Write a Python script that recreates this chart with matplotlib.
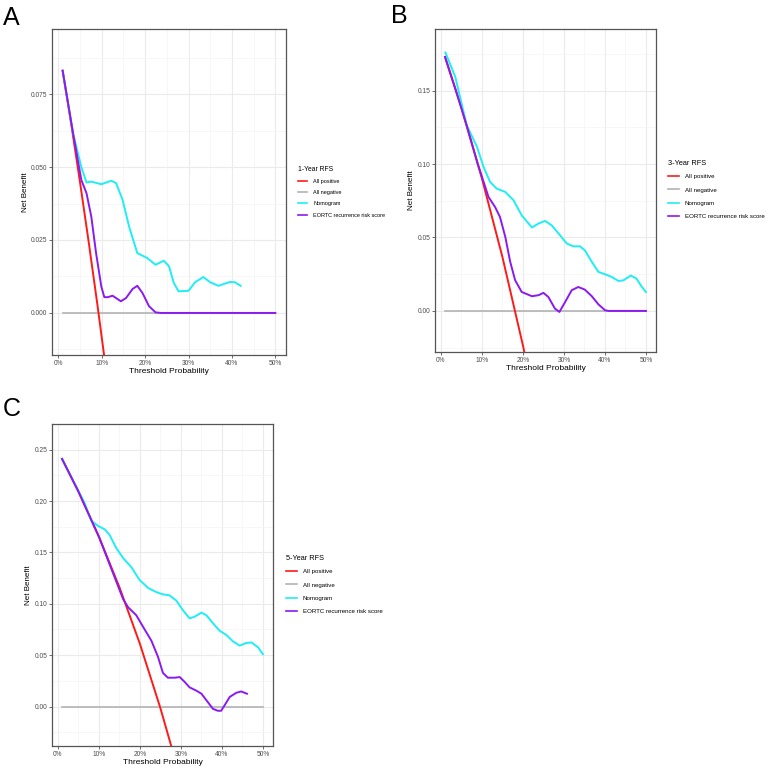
import matplotlib
matplotlib.use("Agg")
import matplotlib.pyplot as plt
from matplotlib.lines import Line2D

plt.rcParams['font.family'] = ['Liberation Sans', 'DejaVu Sans']

# ---- panel A: 1-Year RFS ----
a_pos_x = [1, 3, 5, 7, 9, 11]
a_pos_y = [0.083, 0.0645, 0.0448, 0.0243, 0.0029, -0.0196]
a_nom_x = [1, 3.4, 5.3, 6.5, 7.6, 9.9, 12.2, 13.3, 14.8, 16.3, 18.2, 20.5, 22.4, 24.3, 25.5,
           26.6, 27.7, 30.0, 31.5, 33.4, 35.0, 36.9, 39.5, 40.7, 42.0]
a_nom_y = [0.083, 0.0616, 0.050, 0.0447, 0.0450, 0.0441, 0.0453, 0.0445, 0.0388, 0.0296,
           0.0205, 0.0188, 0.0165, 0.0179, 0.0160, 0.0103, 0.0074, 0.0076, 0.0105, 0.0123,
           0.0105, 0.0093, 0.0106, 0.0105, 0.0093]
a_eor_x = [1, 3.4, 5.3, 6.5, 7.6, 8.7, 9.9, 10.6, 11.4, 12.5, 14.4, 15.6, 17.1, 18.2, 19.4,
           20.9, 22.4, 23.6, 50]
a_eor_y = [0.083, 0.0616, 0.0456, 0.041, 0.033, 0.0205, 0.0091, 0.0054, 0.0054, 0.0059,
           0.004, 0.0051, 0.0082, 0.0093, 0.0068, 0.0023, 0.0002, 0.0, 0.0]

# ---- panel B: 3-Year RFS ----
b_pos_x = [1, 5, 10, 15, 20, 21]
b_pos_y = [0.1729, 0.1381, 0.0902, 0.0367, -0.0235, -0.0365]
b_nom_x = [1.1, 3.5, 6.3, 8.8, 10.4, 12.0, 13.6, 15.7, 17.7, 19.7, 22.2, 23.8, 25.4, 27.0,
           28.7, 30.7, 32.3, 33.9, 35.1, 36.8, 38.4, 40.0, 41.6, 43.3, 44.5, 46.3, 47.7,
           48.9, 50.0]
b_nom_y = [0.176, 0.1594, 0.1264, 0.1117, 0.098, 0.0878, 0.0833, 0.081, 0.0754, 0.0651,
           0.0568, 0.0595, 0.0613, 0.0583, 0.0527, 0.0459, 0.044, 0.044, 0.0413, 0.0334,
           0.0266, 0.025, 0.0232, 0.0204, 0.0208, 0.0241, 0.022, 0.0168, 0.0129]
b_eor_x = [1, 3.5, 6.3, 9.0, 11.6, 13.2, 14.4, 15.7, 16.9, 18.1, 19.7, 22.2, 23.8, 25.0,
           26.2, 27.8, 28.9, 30.3, 31.9, 33.5, 35.1, 36.8, 38.4, 40.0, 40.8, 50]
b_eor_y = [0.173, 0.1515, 0.1262, 0.1000, 0.0776, 0.0708, 0.064, 0.0504, 0.0334, 0.0209,
           0.0129, 0.010, 0.0107, 0.0123, 0.0095, 0.0016, -0.0007, 0.0061, 0.0141, 0.0163,
           0.0145, 0.010, 0.0045, 0.0005, 0.0, 0.0]

# ---- panel C: 5-Year RFS ----
c_pos_x = [1, 5, 10, 15, 20, 25, 28]
c_pos_y = [0.241, 0.2092, 0.1652, 0.1161, 0.0609, -0.0017, -0.0435]
c_nom_x = [1, 4.5, 6.5, 8.1, 9.8, 11.4, 12.6, 14.2, 15.9, 17.9, 19.9, 22.0, 24.0, 25.6,
           27.2, 28.9, 30.5, 32.1, 33.3, 35.0, 36.2, 37.8, 39.4, 41.1, 42.7, 44.3, 45.9,
           47.2, 48.8, 50.0]
c_nom_y = [0.241, 0.2137, 0.198, 0.181, 0.1757, 0.1725, 0.167, 0.1544, 0.1445, 0.1357,
           0.1232, 0.1154, 0.1114, 0.1092, 0.1083, 0.103, 0.0936, 0.0858, 0.0874, 0.0914,
           0.0889, 0.0811, 0.0739, 0.0696, 0.0634, 0.0593, 0.0618, 0.0624, 0.0577, 0.0509]
c_eor_x = [1, 5, 10, 15.9, 17.1, 19.1, 20.7, 22.8, 24.4, 25.6, 26.8, 28.5, 29.7, 30.9, 32.1,
           33.7, 35.0, 36.2, 37.8, 39.0, 39.8, 40.7, 41.9, 43.5, 44.7, 46.1]
c_eor_y = [0.241, 0.2092, 0.1652, 0.1045, 0.0967, 0.0889, 0.078, 0.064, 0.0484, 0.0328,
           0.0281, 0.0281, 0.0287, 0.024, 0.0187, 0.0156, 0.0125, 0.0062, -0.0022, -0.0041,
           -0.0041, 0.0016, 0.0094, 0.0134, 0.0147, 0.0125]

labels = ['All positive', 'All negative', 'Nomogram', 'EORTC recurrence risk score']
colors = ['#FF1A1A', '#B3B3B3', '#1EEEF5', '#8A1AF0']

panels = [
    ('A', '1-Year RFS', [0.0672, 0.5408, 0.3023, 0.4217], (-0.0144, 0.0973),
     [0, 0.025, 0.05, 0.075], ['0.000', '0.025', '0.050', '0.075'],
     (a_pos_x, a_pos_y), (a_nom_x, a_nom_y), (a_eor_x, a_eor_y),
     (0.004, 0.992), (298 / 774, 1 - 166 / 773), 4.0, 4.9, 1.14, 4),
    ('B', '3-Year RFS', [0.562, 0.5446, 0.2855, 0.4179], (-0.028, 0.192),
     [0, 0.05, 0.10, 0.15], ['0.00', '0.05', '0.10', '0.15'],
     (b_pos_x, b_pos_y), (b_nom_x, b_nom_y), (b_eor_x, b_eor_y),
     (0.505, 0.995), (668 / 774, 1 - 160 / 773), 4.45, 5.3, 1.3, 5),
    ('C', '5-Year RFS', [0.0672, 0.0349, 0.2855, 0.4166], (-0.0384, 0.263),
     [0, 0.05, 0.10, 0.15, 0.20, 0.25], ['0.00', '0.05', '0.10', '0.15', '0.20', '0.25'],
     (c_pos_x, c_pos_y), (c_nom_x, c_nom_y), (c_eor_x, c_eor_y),
     (0.004, 0.486), (286 / 774, 1 - 555 / 773), 4.45, 5.3, 1.3, 5),
]

xticks = [0, 10, 20, 30, 40, 50]
xticklabels = ['0%', '10%', '20%', '30%', '40%', '50%']

fig = plt.figure(figsize=(7.74, 7.73), dpi=100)

for (letter, title, rect, ylim, yt, ytl, pos, nom, eor, lpos, legpos, lfs, tfs, lsp, tsep) in panels:
    ax = fig.add_axes(rect)
    ax.set_xlim(-1.45, 52.45)
    ax.set_ylim(*ylim)
    ax.set_xticks(xticks)
    ax.set_xticklabels(xticklabels)
    ax.set_xticks([5, 15, 25, 35, 45], minor=True)
    ax.set_yticks(yt)
    ax.set_yticklabels(ytl)
    ax.set_yticks([v + (yt[1] - yt[0]) / 2 for v in [yt[0] - (yt[1] - yt[0])] + yt], minor=True)
    ax.grid(which='major', color='#EBEBEB', linewidth=0.8)
    ax.grid(which='minor', color='#F4F4F4', linewidth=0.5)
    ax.set_axisbelow(True)
    ax.tick_params(which='major', length=2, width=0.5, color='#333333',
                   labelsize=4.8, labelcolor='#4D4D4D', pad=1.5)
    ax.tick_params(which='minor', length=0)
    for s in ax.spines.values():
        s.set_color('#555555')
        s.set_linewidth(0.9)

    ax.plot([1, 50], [0, 0], color=colors[1], lw=1.2)
    ax.plot(pos[0], pos[1], color=colors[0], lw=1.4)
    ax.plot(nom[0], nom[1], color=colors[2], lw=1.4)
    ax.plot(eor[0], eor[1], color=colors[3], lw=1.4)

    ax.set_xlabel('Threshold Probability', fontsize=6, labelpad=1)
    ax.set_ylabel('Net Benefit', fontsize=5.8, labelpad=1.5)

    fig.text(lpos[0], lpos[1], letter, fontsize=18, va='top', ha='left')

    handles = [Line2D([], [], color=c, lw=1.2) for c in colors]
    leg = fig.legend(handles, labels, loc='upper left', bbox_to_anchor=legpos,
                     frameon=False, fontsize=lfs, title=title, title_fontsize=tfs,
                     handlelength=1.7, handletextpad=1.0, labelspacing=lsp,
                     borderpad=0, borderaxespad=0)
    leg._legend_box.align = 'left'
    leg._legend_box.sep = tsep

fig.savefig('out.png', dpi=100)
